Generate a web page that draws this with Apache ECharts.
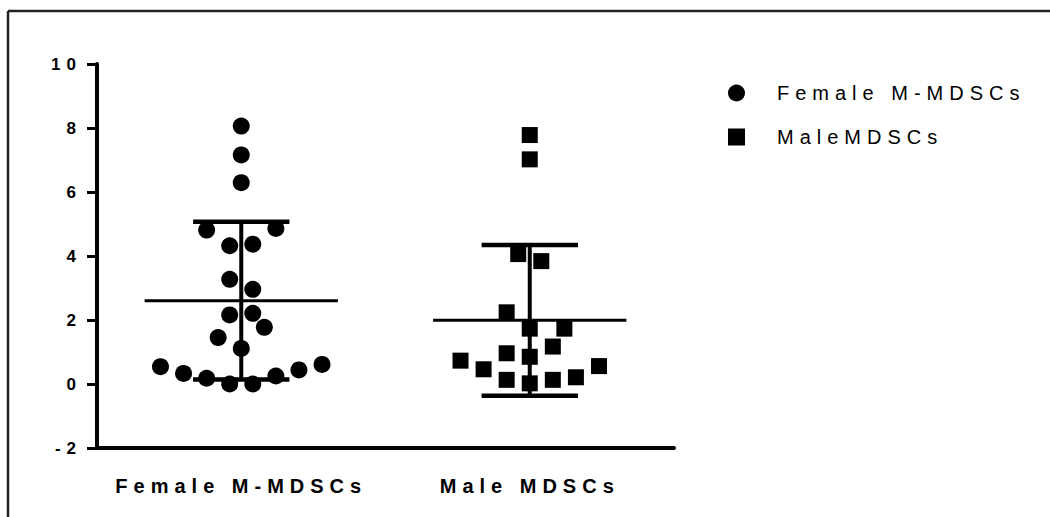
<!DOCTYPE html>
<html>
<head>
<meta charset="utf-8">
<script src="https://cdn.jsdelivr.net/npm/echarts/dist/echarts.min.js"></script>
<style>
  html, body { margin: 0; padding: 0; background: #fff; }
  #chart { width: 1050px; height: 517px; }
  #chart svg text { letter-spacing: 6px; }
</style>
</head>
<body>
<div id="chart"></div>
<script>
// ---- data ----
const categories = ['Female M-MDSCs', 'Male MDSCs'];
const seriesNames = ['Female M-MDSCs', 'MaleMDSCs'];

const femaleValues = [8.06, 7.16, 6.29, 4.81, 4.86, 4.32, 4.37, 3.27, 2.96, 2.16, 2.21, 1.77, 1.45, 1.11, 0.54, 0.33, 0.18, 0.00, 0.00, 0.25, 0.44, 0.61];
const femaleJitter = [0, 0, 0, -0.12, 0.12, -0.04, 0.04, -0.04, 0.04, -0.04, 0.04, 0.08, -0.08, 0, -0.28, -0.20, -0.12, -0.04, 0.04, 0.12, 0.20, 0.28];

const maleValues = [7.78, 7.02, 4.06, 3.84, 2.24, 1.73, 1.73, 1.17, 0.96, 0.85, 0.73, 0.46, 0.56, 0.13, 0.02, 0.13, 0.21];
const maleJitter = [0, 0, -0.04, 0.04, -0.08, 0, 0.12, 0.08, -0.08, 0, -0.24, -0.16, 0.24, -0.08, 0, 0.08, 0.16];

const means = [2.60, 1.99];
const sdUpper = [5.07, 4.34];
const sdLower = [0.14, -0.37];

const yMin = -2, yMax = 10, yInterval = 2;

// ---- chart ----
const chart = echarts.init(document.getElementById('chart'), null, { renderer: 'svg' });
const font = '"Liberation Sans", Arial, sans-serif';

const toPoints = (vals, jit, idx) => vals.map((v, i) => [idx + 0.5 + jit[i], v]);

const errData = categories.map((c, i) => [i, means[i], sdLower[i], sdUpper[i]]);

const option = {
  animation: false,
  backgroundColor: '#fff',
  grid: { left: 97, right: 376, top: 64, bottom: 69 },
  xAxis: [
    {
      type: 'category',
      data: categories,
      boundaryGap: true,
      axisLine: { onZero: false, lineStyle: { color: '#000', width: 4 } },
      axisTick: { alignWithLabel: true, length: 10, lineStyle: { color: '#000', width: 3 } },
      axisLabel: { color: '#000', fontFamily: font, fontWeight: 'bold', fontSize: 20, margin: 28 },
      splitLine: { show: false }
    },
    {
      type: 'value', min: 0, max: 2, show: false
    }
  ],
  yAxis: {
    type: 'value',
    min: yMin, max: yMax, interval: yInterval,
    axisLine: { show: true, lineStyle: { color: '#000', width: 4 } },
    axisTick: { show: true, length: 10, lineStyle: { color: '#000', width: 3 } },
    axisLabel: { color: '#000', fontFamily: font, fontWeight: 'bold', fontSize: 17, margin: 15 },
    splitLine: { show: false }
  },
  legend: {
    orient: 'vertical',
    left: 723, top: 78,
    itemWidth: 17, itemHeight: 17, itemGap: 24,
    selectedMode: false,
    data: seriesNames,
    textStyle: { color: '#000', fontFamily: font, fontSize: 20, lineHeight: 20, padding: [0, 0, 0, 27] }
  },
  graphic: [
    { type: 'line', shape: { x1: 8, y1: 11, x2: 1050, y2: 11 }, style: { stroke: '#222', lineWidth: 2.5 }, silent: true },
    { type: 'line', shape: { x1: 8, y1: 11, x2: 8, y2: 517 }, style: { stroke: '#222', lineWidth: 2.5 }, silent: true }
  ],
  series: [
    {
      name: seriesNames[0], type: 'scatter', xAxisIndex: 1, yAxisIndex: 0,
      symbol: 'circle', symbolSize: 17,
      itemStyle: { color: '#000', opacity: 1 },
      data: toPoints(femaleValues, femaleJitter, 0), z: 2, silent: true
    },
    {
      name: seriesNames[1], type: 'scatter', xAxisIndex: 1, yAxisIndex: 0,
      symbol: 'rect', symbolSize: 16,
      itemStyle: { color: '#000', opacity: 1 },
      data: toPoints(maleValues, maleJitter, 1), z: 2, silent: true
    },
    {
      type: 'custom', xAxisIndex: 1, yAxisIndex: 0, z: 5, silent: true,
      data: errData,
      renderItem: function (params, api) {
        const cx = api.value(0) + 0.5;
        const m = api.coord([cx, api.value(1)]);
        const lo = api.coord([cx, api.value(2)]);
        const hi = api.coord([cx, api.value(3)]);
        const halfMean = api.size([0.335, 0])[0];
        const halfCap = api.size([0.167, 0])[0];
        return {
          type: 'group',
          children: [
            { type: 'line', shape: { x1: hi[0], y1: hi[1], x2: lo[0], y2: lo[1] }, style: { stroke: '#000', lineWidth: 4 } },
            { type: 'line', shape: { x1: hi[0] - halfCap, y1: hi[1], x2: hi[0] + halfCap, y2: hi[1] }, style: { stroke: '#000', lineWidth: 4.5 } },
            { type: 'line', shape: { x1: lo[0] - halfCap, y1: lo[1], x2: lo[0] + halfCap, y2: lo[1] }, style: { stroke: '#000', lineWidth: 4.5 } },
            { type: 'line', shape: { x1: m[0] - halfMean, y1: m[1], x2: m[0] + halfMean, y2: m[1] }, style: { stroke: '#000', lineWidth: 3 } }
          ]
        };
      }
    }
  ]
};
chart.setOption(option);
</script>
</body>
</html>
